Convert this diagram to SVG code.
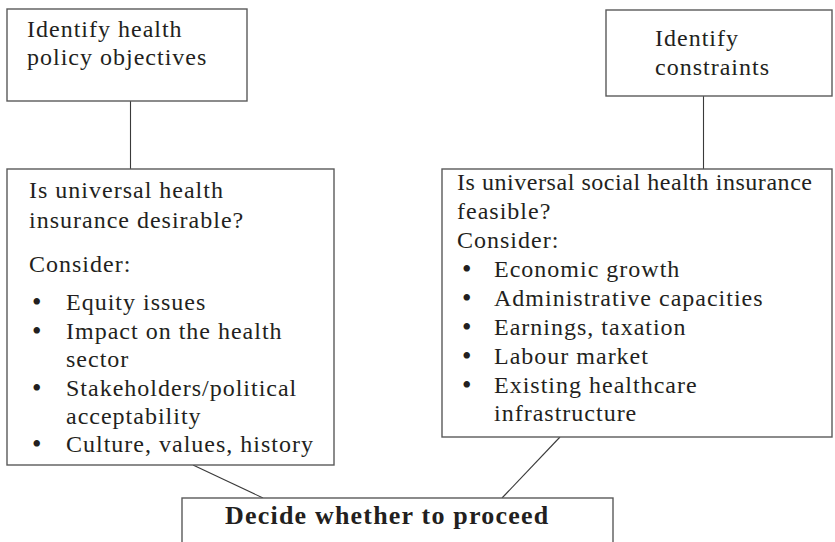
<svg xmlns="http://www.w3.org/2000/svg" width="835" height="542" viewBox="0 0 835 542">
<style>
.box{fill:#fff;stroke:#5a5a5a;stroke-width:1.4}
.ln{stroke:#3a3a3a;stroke-width:1.1;fill:none}
text{font-family:"Liberation Serif","Times New Roman",serif;font-size:24px;fill:#231f20;letter-spacing:1px}
.bu{font-size:27px;letter-spacing:0}
.b{font-weight:bold;font-size:26px;letter-spacing:1.2px}
</style>
<rect width="835" height="542" fill="#fff"/>
<g id="connectors">
<line class="ln" x1="130.5" y1="101" x2="130.5" y2="169"/>
<line class="ln" x1="703.5" y1="96" x2="703.5" y2="169"/>
<line class="ln" x1="193" y1="465" x2="263" y2="498"/>
<line class="ln" x1="560" y1="437" x2="502" y2="498"/>
</g>
<g id="objectives">
<rect class="box" x="7" y="9" width="240" height="92"/>
<text x="27" y="37">Identify health</text>
<text x="27" y="65">policy objectives</text>
</g>
<g id="constraints">
<rect class="box" x="606" y="10" width="226" height="86"/>
<text x="655" y="46">Identify</text>
<text x="655" y="75">constraints</text>
</g>
<g id="desirable">
<rect class="box" x="7" y="169" width="327" height="296"/>
<text x="29" y="198">Is universal health</text>
<text x="29" y="228">insurance desirable?</text>
<text x="29" y="272">Consider:</text>
<text class="bu" x="32" y="311">•</text><text x="66" y="310">Equity issues</text>
<text class="bu" x="32" y="340">•</text><text x="66" y="339">Impact on the health</text>
<text x="66" y="367">sector</text>
<text class="bu" x="32" y="397">•</text><text x="66" y="396">Stakeholders/political</text>
<text x="66" y="424">acceptability</text>
<text class="bu" x="32" y="453">•</text><text x="66" y="452">Culture, values, history</text>
</g>
<g id="feasible">
<rect class="box" x="442" y="169" width="390" height="268"/>
<text x="457" y="190" textLength="356" lengthAdjust="spacing">Is universal social health insurance</text>
<text x="457" y="219">feasible?</text>
<text x="457" y="248">Consider:</text>
<text class="bu" x="462" y="278">•</text><text x="494" y="277">Economic growth</text>
<text class="bu" x="462" y="307">•</text><text x="494" y="306">Administrative capacities</text>
<text class="bu" x="462" y="336">•</text><text x="494" y="335">Earnings, taxation</text>
<text class="bu" x="462" y="365">•</text><text x="494" y="364">Labour market</text>
<text class="bu" x="462" y="394">•</text><text x="494" y="393">Existing healthcare</text>
<text x="494" y="421">infrastructure</text>
</g>
<g id="decide">
<rect class="box" x="182" y="498" width="431" height="60"/>
<text class="b" x="225" y="524">Decide whether to proceed</text>
</g>
</svg>
